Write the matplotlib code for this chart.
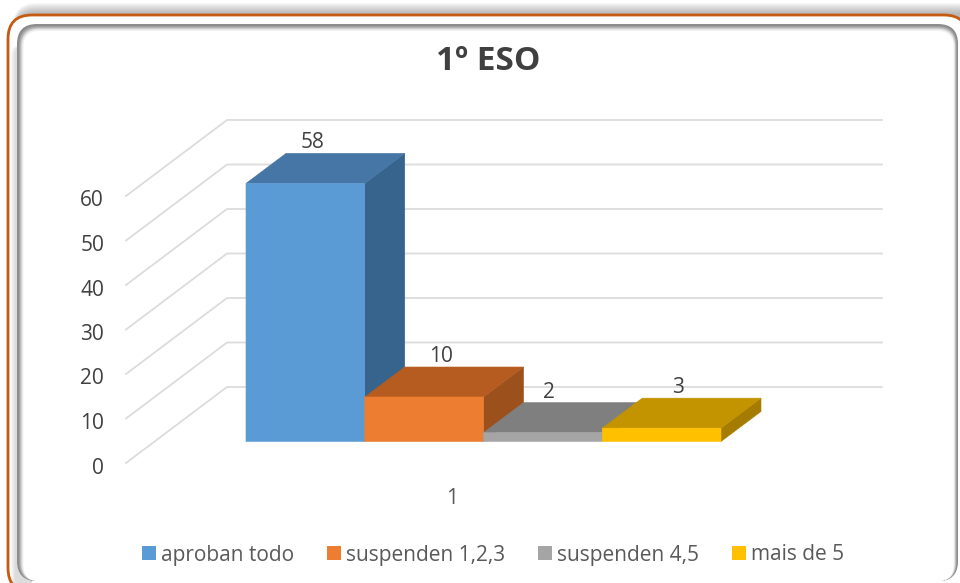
import matplotlib
matplotlib.use("Agg")
import matplotlib.pyplot as plt
from matplotlib.patches import FancyBboxPatch, Polygon, Rectangle
from matplotlib.transforms import IdentityTransform

series = ["aproban todo", "suspenden 1,2,3", "suspenden 4,5", "mais de 5"]
values = [58, 10, 2, 3]
front = ["#5B9BD5", "#ED7D31", "#A5A5A5", "#FFC000"]
top = ["#4676A5", "#B75C20", "#7F7F7F", "#C49300"]
side = ["#37648C", "#9C501C", "#6E6E6E", "#A67C00"]
yticks = [0, 10, 20, 30, 40, 50, 60]
label_shift = [7.5, 17, 6, 16]  # px, data labels sit off centre

PX_X = 118.75   # px per bar
PX_Y = 4.45     # px per unit
X0, Y0 = 246, 441.5
DX, DY = 40 / PX_X, 30 / PX_Y   # bar depth

plt.rcParams["font.family"] = ["Open Sans", "DejaVu Sans"]
fig = plt.figure(figsize=(9.6, 5.83), dpi=100)
ax = fig.add_axes([0, 0, 1, 1])
ax.set_xlim(-X0 / PX_X, (960 - X0) / PX_X)
ax.set_ylim((Y0 - 583) / PX_Y, Y0 / PX_Y)
ax.axis("off")


def px(x, y):
    return (x - X0) / PX_X, (Y0 - y) / PX_Y


def rounded(x0, y0, x1, y1, r, **kw):
    p = FancyBboxPatch((x0, 583 - y1), x1 - x0, y1 - y0,
                       boxstyle="round,pad=0,rounding_size=%g" % r,
                       transform=IdentityTransform(), **kw)
    ax.add_patch(p)


# shadow above the frame
for i in range(11):
    rounded(13, 3 + i, 985, 600, 24, fc="#707070", ec="none", alpha=0.055)
# orange line
rounded(8, 15, 968, 592, 24, fc="white", ec="#C55A11", lw=2)
# soft shade between orange line and the bevel, left side
for i in range(5):
    rounded(11 + i, 45, 32, 600, 10, fc="#808080", ec="none", alpha=0.06)
# inner bevel, dark outside fading to white
bevel = ["#8c8c8c", "#8c8c8c", "#9c9c9c", "#b0b0b0", "#c8c8c8", "#e0e0e0", "#f2f2f2"]
for i, c in enumerate(bevel):
    rounded(17 + i * 0.9, 24 + i * 0.95, 958 - i * 0.6, 581, 20 - i * 0.5, fc=c, ec="none")
rounded(23.5, 31, 953.5, 581, 16, fc="white", ec="none")

# wall and floor grid
gx0, gx1, gx2 = 126, 227, 882
for v in yticks:
    yf = Y0 + 21.5 - v * PX_Y
    yb = Y0 - 54.5 - v * PX_Y
    ax.plot(*zip(px(gx0, yf), px(gx1, yb), px(gx2, yb)), color="#DCDCDC", lw=1.3, zorder=1)
    ax.text(*px(104, yf + 5), str(v), ha="right", va="center", fontsize=15, color="#404040")

# bars
for i, (v, f, t, s) in enumerate(zip(values, front, top, side)):
    ax.add_patch(Polygon([(i + 1, 0), (i + 1 + DX, DY), (i + 1 + DX, v + DY), (i + 1, v)],
                         fc=s, ec=s, lw=0.4, zorder=2 + i, snap=False))
    ax.add_patch(Polygon([(i, v), (i + DX, v + DY), (i + 1 + DX, v + DY), (i + 1, v)],
                         fc=t, ec=t, lw=0.4, zorder=2 + i, snap=False))
    ax.add_patch(Rectangle((i, 0), 1, v, fc=f, ec=f, lw=0.4, zorder=2.5 + i, snap=False))
    ax.text(i + 0.5 + label_shift[i] / PX_X, v + DY, str(v), ha="center", va="bottom",
            fontsize=15, color="#404040", zorder=10)

ax.text(*px(452, 498), "1", ha="center", va="center", fontsize=15, color="#595959")
ax.text(*px(488, 61), "1º ESO", ha="center", va="center", fontsize=24,
        fontweight="bold", color="#404040")

# legend
leg_sq = [142, 327, 538, 732]
leg_tx = [161, 346, 557, 751]
for name, c, a, b in zip(series, front, leg_sq, leg_tx):
    x, y = px(a, 560)
    ax.add_patch(Rectangle((x, y), 14 / PX_X, 14 / PX_Y, fc=c, ec="none", zorder=5))
    ax.text(*px(b, 555), name, ha="left", va="center", fontsize=15, color="#595959")

fig.savefig("out.png", dpi=100)
